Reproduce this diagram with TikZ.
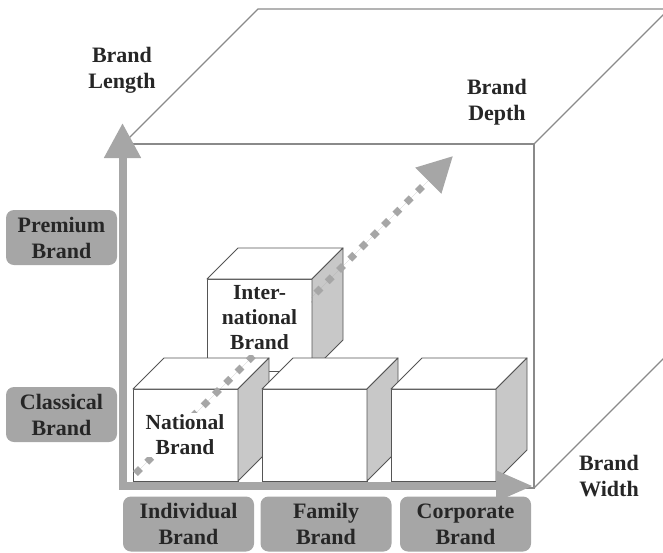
\documentclass[tikz,border=0pt]{standalone}
\usepackage{fontspec}
\setmainfont{Liberation Serif}
\usetikzlibrary{arrows.meta}
\definecolor{axisgray}{HTML}{A6A6A6}
\definecolor{edgegray}{HTML}{8A8A8A}
\definecolor{sidegray}{HTML}{C8C8C8}
\definecolor{txt}{HTML}{262626}
\definecolor{cubeline}{HTML}{555555}
\newcommand\brandcube[3]{%
  \node[cubefront, anchor=north west] (#1) at (#2,#3) {};
  \filldraw[cubeedge, fill=white] (#1.north west) -- ++(31,-31) -- ++(105,0) -- (#1.north east) -- cycle;
  \filldraw[cubeedge, fill=sidegray] (#1.north east) -- ++(31,-31) -- ++(0,92) -- (#1.south east) -- cycle;
}
\begin{document}
\begin{tikzpicture}[x=1pt,y=-1pt,
  lbl/.style={font=\bfseries\fontsize{22}{26}\selectfont, text=txt, align=center, inner sep=0pt},
  cubelbl/.style={font=\bfseries\fontsize{21.5}{25}\selectfont, text=txt, align=center, fill=white, inner sep=1.5pt},
  tag/.style={lbl, fill=axisgray, rounded corners=8pt},
  vtag/.style={tag, minimum width=111pt, minimum height=55pt},
  htag/.style={tag, minimum width=131pt, minimum height=55pt},
  bigedge/.style={draw=edgegray, line width=1.3pt},
  cubefront/.style={draw=cubeline, line width=0.9pt, fill=white, minimum width=105pt, minimum height=92pt, inner sep=0pt, outer sep=0pt},
  cubeedge/.style={draw=cubeline, line width=0.9pt, line join=round},
  axis/.style={draw=axisgray, line width=8pt, line join=miter},
  dotarrow/.style={draw=axisgray, fill=axisgray, line width=7pt, dash pattern=on 7pt off 8.95pt,
     -{Triangle[length=35pt 0 0, width=35pt 0 0]}}]
\clip (0,0) rectangle (663,552);
% big cube
\coordinate (f1) at (123,144);
\coordinate (f2) at (534,144);
\coordinate (f3) at (534,488);
\coordinate (f4) at (123,488);
\coordinate (b1) at (258,9);
\coordinate (b2) at (669,9);
\coordinate (b3) at (669,353);
\draw[bigedge] (f4) -- (f1) -- (f2) -- (f3) -- cycle;
\draw[bigedge] (f1) -- (b1) -- (b2) -- (f2);
\draw[bigedge] (f3) -- (b3) -- (b2);
% small cubes
\brandcube{intl}{207}{279}
\brandcube{natl}{133}{389}
\brandcube{fam}{262}{389}
\brandcube{corp}{391}{389}
% dotted depth arrow
\coordinate (ds) at (135.5,473.5);
\coordinate (dt) at (453,156);
\draw[dotarrow] (ds) -- (dt);
% cube labels
\node[cubelbl] (natlbl) at (185,435) {National\\Brand};
\node[cubelbl, minimum width=103pt, inner ysep=5pt] (intlbl) at (259.5,318) {Inter-\\national\\Brand};
% axes
\coordinate (ytip) at (122.5,123);
\coordinate (origin) at (122.5,486);
\coordinate (xtip) at (533,486);
\draw[axis, arrows={Triangle[length=35pt 0 0, width=35pt 0 0, fill=axisgray]-Triangle[length=37pt 0 0, width=29pt 0 0, fill=axisgray]}] (ytip) -- (origin) -- (xtip);
% axis labels
\node[lbl] (len) at (122,70) {Brand\\Length};
\node[lbl] (dep) at (497,102) {Brand\\Depth};
\node[lbl] (wid) at (609,476.5) {Brand\\Width};
% tags
\node[vtag] (prem) at (61.5,237.5) {Premium\\Brand};
\node[vtag] (clas) at (61.5,414.5) {Classical\\Brand};
\node[htag] (ind) at (188.5,524) {Individual\\Brand};
\node[htag] (famt) at (326,524) {Family\\Brand};
\node[htag] (corpt) at (465.5,524) {Corporate\\Brand};
\end{tikzpicture}
\end{document}
